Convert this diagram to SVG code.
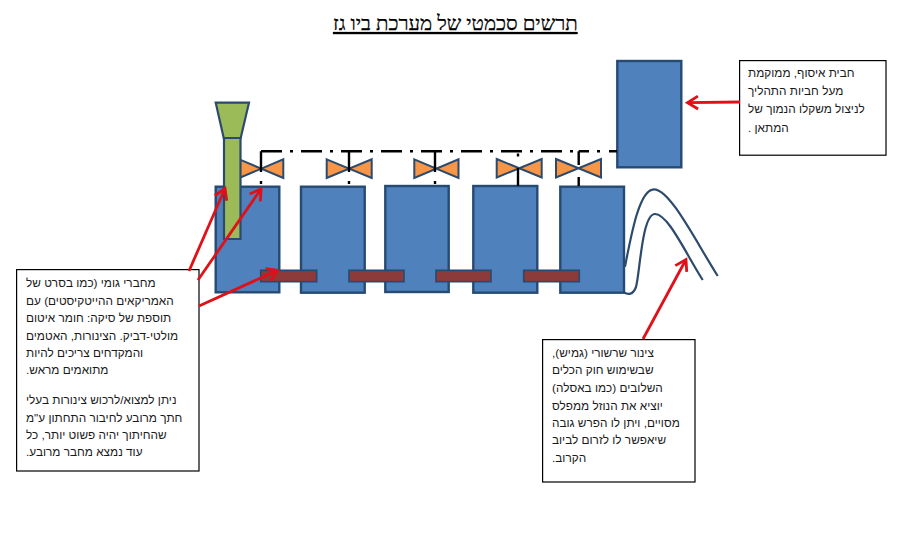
<svg xmlns="http://www.w3.org/2000/svg" width="923" height="540" viewBox="0 0 923 540">
<style>
text{font-family:"Liberation Sans","Noto Sans",sans-serif;font-size:11.8px;fill:#1a1a1a;direction:rtl;text-anchor:end}
text.title{font-family:"Liberation Serif","DejaVu Serif",serif;font-size:20.4px;fill:#000;stroke:#000;stroke-width:.25;text-decoration:underline}
.tank{fill:#4F81BD;stroke:#254a73;stroke-width:2.4}
.bar{fill:#8C3A3A;stroke:#254a73;stroke-width:1.6}
.valve{fill:#F79646;stroke:#2C4A6E;stroke-width:2}
.green{fill:#9BBB59;stroke:#2C4A6E;stroke-width:2.2}
.box{fill:#fff;stroke:#000;stroke-width:1.2}
.pipe{fill:none;stroke:#000;stroke-width:2.4}
.hose{fill:none;stroke:#2C4A6E;stroke-width:2.2}
.arrow{fill:none;stroke:#E01018;stroke-width:2.8;marker-end:url(#v)}
</style>
<defs>
<marker id="v" markerUnits="userSpaceOnUse" markerWidth="18" markerHeight="18" refX="13" refY="9" orient="auto">
<path d="M2.5 2.5L13 9L2.5 15.5" fill="none" stroke="#E01018" stroke-width="2.8"/>
</marker>
</defs>
<rect width="923" height="540" fill="#fff"/>
<text id="title" class="title" x="333" y="30">תרשים סכמטי של מערכת ביו גז</text>
<g id="tank1"><rect class="tank" x="215.7" y="186.7" width="63.6" height="105.6"/></g>
<g id="tank2"><rect class="tank" x="301" y="186.7" width="63.7" height="106"/></g>
<g id="tank3"><rect class="tank" x="385.3" y="186" width="63.4" height="106"/></g>
<g id="tank4"><rect class="tank" x="473.3" y="186" width="64" height="106.7"/></g>
<g id="tank5"><rect class="tank" x="560.3" y="186.7" width="63.7" height="106"/></g>
<g id="storage"><rect class="tank" x="617.3" y="61" width="64" height="106.3"/></g>
<g id="bar1"><rect class="bar" x="260.7" y="270.3" width="56" height="11.4"/></g>
<g id="bar2"><rect class="bar" x="349" y="270.3" width="55" height="11.4"/></g>
<g id="bar3"><rect class="bar" x="436" y="270.3" width="55" height="11.4"/></g>
<g id="bar4"><rect class="bar" x="523.7" y="270.3" width="55.6" height="11.4"/></g>
<g id="valve1"><path class="valve" d="M239.3 159.3L283.3 178V159.3L239.3 178Z"/></g>
<g id="valve2"><path class="valve" d="M326.7 159.3L371.7 178V159.3L326.7 178Z"/></g>
<g id="valve3"><path class="valve" d="M414.3 159.3L458.5 178V159.3L414.3 178Z"/></g>
<g id="valve4"><path class="valve" d="M496.7 159L541.7 177.5V159L496.7 177.5Z"/></g>
<g id="valve5"><path class="valve" d="M556 159L601 177.5V159L556 177.5Z"/></g>
<g id="feed">
<path class="green" d="M224 138H240.5V239H224Z"/>
<path class="green" d="M215.7 102.7H249L240.7 138H223.7Z"/>
</g>
<g id="note-storage">
<rect class="box" x="739.6" y="60.6" width="146.4" height="94.6"/>
<text x="748" y="77">חבית איסוף, ממוקמת</text>
<text x="748" y="95">מעל חביות התהליך</text>
<text x="748" y="113">לניצול משקלו הנמוך של</text>
<text x="748" y="132">המתאן .</text>
</g>
<g id="note-connectors">
<rect class="box" x="16.6" y="269.6" width="182.4" height="201.4"/>
<text x="26" y="287">מחברי גומי (כמו בסרט של</text>
<text x="26" y="305">האמריקאים ההייטקיסטים) עם</text>
<text x="26" y="322">תוספת של סיקה: חומר איטום</text>
<text x="26" y="340">מולטי-דביק. הצינורות, האטמים</text>
<text x="26" y="357">והמקדחים צריכים להיות</text>
<text x="26" y="374">מתואמים מראש.</text>
<text x="26" y="404">ניתן למצוא/לרכוש צינורות בעלי</text>
<text x="26" y="422">חתך מרובע לחיבור התחתון ע"מ</text>
<text x="26" y="439">שהחיתוך יהיה פשוט יותר, כל</text>
<text x="26" y="456">עוד נמצא מחבר מרובע.</text>
</g>
<g id="note-hose">
<rect class="box" x="542.6" y="339.6" width="152.4" height="142.4"/>
<text x="552" y="357">צינור שרשורי (גמיש),</text>
<text x="552" y="374">שבשימוש חוק הכלים</text>
<text x="552" y="392">השלובים (כמו באסלה)</text>
<text x="552" y="410">יוציא את הנוזל ממפלס</text>
<text x="552" y="427">מסויים, ויתן לו הפרש גובה</text>
<text x="552" y="444">שיאפשר לו לזרום לביוב</text>
<text x="552" y="462">הקרוב.</text>
</g>
<g id="connectors">
<path class="pipe" stroke-dasharray="21 8 3 8" d="M261 151.3H576"/>
<path class="pipe" d="M578.7 151.3H589M597 151.3H600M609 151.3H617"/>
<path class="pipe" d="M261 151.3V172M261 181V184M349 151.3V172M349 181V184M435 151.3V172M435 181V184M518 153.5V156.5M518 168V186M578.7 151.3V165M578.7 177V186"/>
<path class="hose" d="M625 266.7C632 230 640 189.3 654 189.3C670 189.3 695 240 717.7 276"/>
<path class="hose" d="M624 292.3C628 295 633 295 636 287C640 272 642 214 655 214C668 214 685 252 702.7 280"/>
<path class="arrow" d="M740 102L687.5 102.7"/>
<path class="arrow" d="M643 339L686 259.5"/>
<path class="arrow" d="M189 271L225 188.5"/>
<path class="arrow" d="M198 280L261 189"/>
<path class="arrow" d="M199 306L277.7 270.3"/>
</g>
</svg>
